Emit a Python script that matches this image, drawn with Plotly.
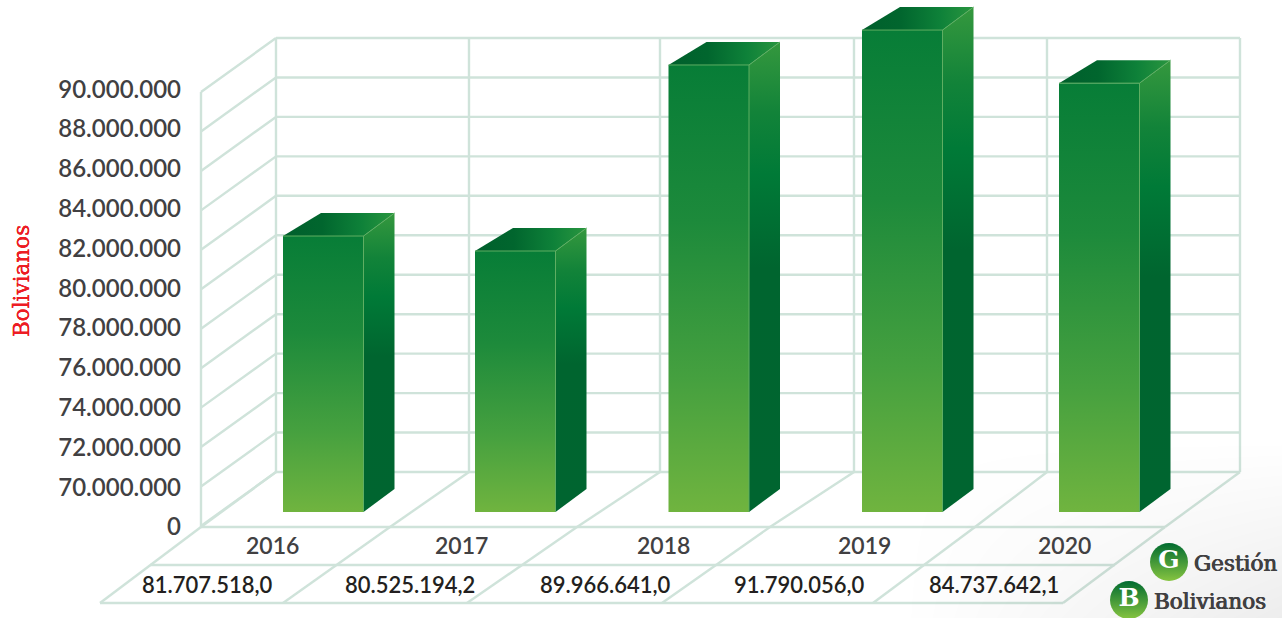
import plotly.graph_objects as go

# ---- data -----------------------------------------------------------------
years = ["2016", "2017", "2018", "2019", "2020"]
value_labels = ["81.707.518,0", "80.525.194,2", "89.966.641,0", "91.790.056,0", "84.737.642,1"]
# bar heights as drawn in the picture, read against the axis
bar_levels = [81990000, 81230000, 90660000, 92430000, 89740000]
tick_values = [68000000, 70000000, 72000000, 74000000, 76000000, 78000000, 80000000,
               82000000, 84000000, 86000000, 88000000, 90000000]
tick_labels = ["0", "70.000.000", "72.000.000", "74.000.000", "76.000.000", "78.000.000",
               "80.000.000", "82.000.000", "84.000.000", "86.000.000", "88.000.000", "90.000.000"]

# ---- layout constants ------------------------------------------------------
W, H = 1282, 618
BASE = 68000000
K = 434 / 22e6        # px per unit, front plane of the wall
Y0 = 526
def v(p):             # pixel row -> axis value
    return BASE + (Y0 - p) / K

GRID = "#cfe3da"
bar_left = [283, 475, 668.5, 862, 1059]
bar_w = 80.5
bar_floor = 512
wall_x = [276, 469, 660, 854, 1047, 1240]
floor_dx = [[201, 100], [390, 283], [577, 467], [770, 662], [975, 873], [1165, 1063]]
year_x = [272, 461, 663, 864, 1064]
value_x = [207, 410, 605, 799, 994]

FRONT = [[0, "#70b43f"], [0.3, "#45a03f"], [0.65, "#1d8a3b"], [1, "#077d37"]]
SIDE = [[0, "#006530"], [0.52, "#00652f"], [0.72, "#007a37"], [0.85, "#128339"], [1, "#35983e"]]
TOP = [[0, "#005f2c"], [0.35, "#01662e"], [0.7, "#0e8139"], [1, "#2a963f"]]

fig = go.Figure()

# faint grey corner of the page
fig.add_trace(go.Heatmap(x=[900, 1282], y=[v(618), v(440)], z=[[0, 1], [0, 0]], zsmooth="best",
                         zmin=0, zmax=1, showscale=False, hoverinfo="skip",
                         colorscale=[[0, "rgba(0,0,0,0)"], [1, "rgba(0,0,0,0.07)"]]))

def seg(x0, p0, x1, p1):
    return dict(type="line", xref="x", yref="y", x0=x0, x1=x1, y0=v(p0), y1=v(p1),
                line=dict(color=GRID, width=2.4), layer="below")

shapes = []
for t in tick_values:
    p_front = Y0 - (t - BASE) * K
    shapes.append(seg(201, p_front, wall_x[0], p_front - 54))
    shapes.append(seg(wall_x[0], p_front - 54, wall_x[-1], p_front - 54))
for x in wall_x:
    shapes.append(seg(x, 38, x, 472))
shapes.append(seg(201, 92, 201, 527))
shapes.append(seg(201, 527, 1165, 527))
shapes.append(seg(150, 565, 1115, 565))
shapes.append(seg(100, 603, 1063, 603))
for x, (xm, xb) in zip(wall_x, floor_dx):
    shapes.append(seg(x, 472, xm, 527))
    shapes.append(seg(xm, 527, xb, 603))

for left, lvl in zip(bar_left, bar_levels):
    right = left + bar_w
    top_p = Y0 - (lvl - BASE) * K - 14
    top = v(top_p)
    floor = v(bar_floor)
    back = 23 / K
    # side
    fig.add_trace(go.Scatter(
        x=[right, right + 31, right + 31, right, right],
        y=[top, top + back, floor + back, floor, top],
        mode="lines", line=dict(width=0), fill="toself", hoverinfo="skip",
        fillgradient=dict(type="vertical", colorscale=SIDE)))
    # top
    fig.add_trace(go.Scatter(
        x=[left, left + 38, right + 31, right, left],
        y=[top, top + back, top + back, top, top],
        mode="lines", line=dict(width=0), fill="toself", hoverinfo="skip",
        fillgradient=dict(type="horizontal", colorscale=TOP)))
    # front
    fig.add_trace(go.Scatter(
        x=[left, right, right, left, left],
        y=[floor, floor, top, top, floor],
        mode="lines", line=dict(width=0), fill="toself", hoverinfo="skip",
        fillgradient=dict(type="vertical", colorscale=FRONT)))
    # lit edge between front and side
    fig.add_trace(go.Scatter(
        x=[left, right, right, None, right, right + 31],
        y=[top, top, floor, None, top, top + back],
        mode="lines", line=dict(width=1, color="#5fae62"), hoverinfo="skip"))

# legend discs
disc_x = [1169, 1129]
disc_p = [562, 600]
disc_c = ["G", "B"]
fig.add_trace(go.Scatter(
    x=disc_x, y=[v(p) for p in disc_p], mode="markers+text", text=disc_c,
    textposition="middle center",
    textfont=dict(family="DejaVu Serif", size=25, color="white", weight="bold"),
    marker=dict(size=38, color="#006b30", line=dict(width=0),
                gradient=dict(type="vertical", color="#86c440")),
    hoverinfo="skip"))

# invisible trace that carries the labelled axis
fig.add_trace(go.Scatter(x=[300], y=[BASE], yaxis="y2", mode="markers",
                         marker=dict(opacity=0), hoverinfo="skip"))

ann = []
TXT1 = "#414042"
def thick(c):
    return f"0.45px 0 0 {c}, -0.45px 0 0 {c}"
for x, s in zip(year_x, years):
    ann.append(dict(x=x, y=v(545), xref="x", yref="y", text=s, showarrow=False,
                    font=dict(family="Lato", size=23, color=TXT1, weight=600)))
for x, s in zip(value_x, value_labels):
    ann.append(dict(x=x, y=v(584), xref="x", yref="y", text=s, showarrow=False,
                    font=dict(family="Lato", size=22, color="#231f20", weight=600)))
ann.append(dict(x=1192, y=v(563), xref="x", yref="y", text="Gestión", xanchor="left", showarrow=False,
                font=dict(family="DejaVu Serif", size=21.5, color=TXT1, shadow=thick(TXT1))))
ann.append(dict(x=1152, y=v(601), xref="x", yref="y", text="Bolivianos", xanchor="left", showarrow=False,
                font=dict(family="DejaVu Serif", size=21.5, color=TXT1, shadow=thick(TXT1))))
ann.append(dict(x=21, y=v(281), xref="x", yref="y", text="Bolivianos", textangle=-90, showarrow=False,
                font=dict(family="DejaVu Serif", size=21.5, color="#ed1c24",
                          shadow="0 0.45px 0 #ed1c24, 0 -0.45px 0 #ed1c24")))

KL = 398 / 20e6       # px per unit for the printed scale
LY = 527
fig.update_layout(
    width=W, height=H, margin=dict(l=0, r=0, t=0, b=0, pad=0),
    paper_bgcolor="white", plot_bgcolor="rgba(0,0,0,0)", showlegend=False,
    xaxis=dict(range=[0, W], visible=False, fixedrange=True),
    yaxis=dict(range=[v(H), v(0)], visible=False, fixedrange=True),
    yaxis2=dict(range=[BASE - (H - LY) / KL, BASE + LY / KL], overlaying="y", anchor="free",
                position=181 / W, side="left", tickmode="array", tickvals=tick_values,
                ticktext=tick_labels, showgrid=False, zeroline=False, showline=False,
                ticks="", ticklen=0, fixedrange=True,
                tickfont=dict(family="Lato", size=24, color=TXT1, weight=600)),
    shapes=shapes, annotations=ann,
)
fig.write_html("out.html", config={"displayModeBar": False},
               post_script="document.body.style.margin='0';document.body.style.overflow='hidden';")
